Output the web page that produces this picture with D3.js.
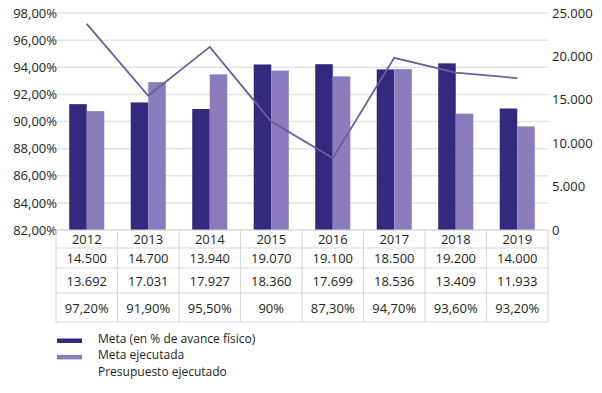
<!DOCTYPE html>
<html lang="es">
<head>
<meta charset="UTF-8">
<title>Meta y presupuesto ejecutado</title>
<style>
  body { margin: 0; background: #fff; font-family: "Open Sans", sans-serif; }
  svg text { fill: #231f20; }
</style>
</head>
<body>
<svg id="chart" width="602" height="393"></svg>
<script src="https://d3js.org/d3.v7.min.js"></script>
<script>
  const years = ["2012", "2013", "2014", "2015", "2016", "2017", "2018", "2019"];
  const meta = [14500, 14700, 13940, 19070, 19100, 18500, 19200, 14000];
  const metaEjecutada = [13692, 17031, 17927, 18360, 17699, 18536, 13409, 11933];
  const presupuesto = [97.2, 91.9, 95.5, 90, 87.3, 94.7, 93.6, 93.2];
  const presupuestoLabels = ["97,20%", "91,90%", "95,50%", "90%", "87,30%", "94,70%", "93,60%", "93,20%"];
  const leftTicks = [82, 84, 86, 88, 90, 92, 94, 96, 98];
  const rightTicks = [0, 5000, 10000, 15000, 20000, 25000];
  const legendLabels = ["Meta (en % de avance físico)", "Meta ejecutada", "Presupuesto ejecutado"];

  const colors = { meta: "#33297f", ejec: "#8a7bbd", line: "#6e5c9c", grid: "#e3e3e3", table: "#d9d9d9" };

  const es = d3.formatLocale({ decimal: ",", thousands: ".", grouping: [3], currency: ["", "€"] });
  const fmtInt = es.format(",d");
  const fmtPct = es.format(",.2f");

  const svg = d3.select("#chart");
  const mLeft = 56, mRight = 548, mTop = 13, mBottom = 230;

  const x0 = d3.scaleBand().domain(years).range([mLeft, mRight]).padding(0);
  const pairW = x0.bandwidth() * 0.57;
  const x1 = d3.scaleBand().domain(["meta", "ejec"]).range([-pairW / 2, pairW / 2]);
  const yL = d3.scaleLinear().domain([82, 98]).range([mBottom, mTop]);
  const yR = d3.scaleLinear().domain([0, 25000]).range([mBottom, mTop]);

  // gridlines
  svg.append("g").selectAll("line").data(leftTicks).join("line")
    .attr("x1", mLeft).attr("x2", mRight)
    .attr("y1", d => yL(d)).attr("y2", d => yL(d))
    .attr("stroke", colors.grid).attr("stroke-width", 1.5);

  // left axis
  const axL = svg.append("g").attr("transform", `translate(${mLeft},0)`)
    .call(d3.axisLeft(yL).tickValues(leftTicks).tickSize(0).tickPadding(0).tickFormat(d => fmtPct(d) + "%"));
  axL.select(".domain").remove();
  axL.selectAll("text").attr("font-size", 13).attr("font-family", "Open Sans").attr("x", 1);

  // right axis
  const axR = svg.append("g").attr("transform", `translate(${mRight},0)`)
    .call(d3.axisRight(yR).tickValues(rightTicks).tickSize(0).tickPadding(4).tickFormat(d => fmtInt(d)));
  axR.select(".domain").remove();
  axR.selectAll("text").attr("font-size", 13).attr("font-family", "Open Sans");

  // bars
  const rows = years.map((y, i) => ({ year: y, meta: meta[i], ejec: metaEjecutada[i] }));
  const groups = svg.append("g").selectAll("g").data(rows).join("g")
    .attr("transform", d => `translate(${x0(d.year) + x0.bandwidth() / 2},0)`);
  groups.selectAll("rect").data(d => [["meta", d.meta], ["ejec", d.ejec]]).join("rect")
    .attr("x", d => x1(d[0]))
    .attr("width", x1.bandwidth())
    .attr("y", d => yR(d[1]))
    .attr("height", d => mBottom - yR(d[1]))
    .attr("fill", d => colors[d[0]]);

  // line
  const line = d3.line()
    .x((d, i) => x0(years[i]) + x0.bandwidth() / 2)
    .y(d => yL(d));
  svg.append("path").datum(presupuesto)
    .attr("d", line).attr("fill", "none")
    .attr("stroke", colors.line).attr("stroke-width", 1.8);

  // data table
  const rowEdges = [230, 248, 268, 293, 322];
  const tableRows = [years, meta.map(fmtInt), metaEjecutada.map(fmtInt), presupuestoLabels];
  const table = svg.append("g");
  table.selectAll("line.h").data(rowEdges).join("line").attr("class", "h")
    .attr("x1", mLeft).attr("x2", mRight)
    .attr("y1", d => d).attr("y2", d => d)
    .attr("stroke", colors.table).attr("stroke-width", 1.2);
  table.selectAll("line.v").data([...years.map(y => x0(y)), mRight]).join("line").attr("class", "v")
    .attr("x1", d => d).attr("x2", d => d)
    .attr("y1", rowEdges[0]).attr("y2", rowEdges[4])
    .attr("stroke", colors.table).attr("stroke-width", 1.2);
  tableRows.forEach((vals, r) => {
    const cy = (rowEdges[r] + rowEdges[r + 1]) / 2;
    table.append("g").selectAll("text").data(vals).join("text")
      .attr("x", (d, i) => x0(years[i]) + x0.bandwidth() / 2)
      .attr("y", cy + 5)
      .attr("text-anchor", "middle")
      .attr("font-size", 13)
      .text(d => d);
  });

  // legend
  const legend = svg.append("g");
  const legendY = [343, 359.4, 375.8];
  legend.selectAll("rect").data([colors.meta, colors.ejec]).join("rect")
    .attr("x", 57).attr("width", 25)
    .attr("y", (d, i) => legendY[i] - 4.5).attr("height", 4.5)
    .attr("fill", d => d);
  legend.selectAll("text").data(legendLabels).join("text")
    .attr("x", 98).attr("y", (d, i) => legendY[i])
    .attr("font-size", 12)
    .text(d => d);
</script>
</body>
</html>
